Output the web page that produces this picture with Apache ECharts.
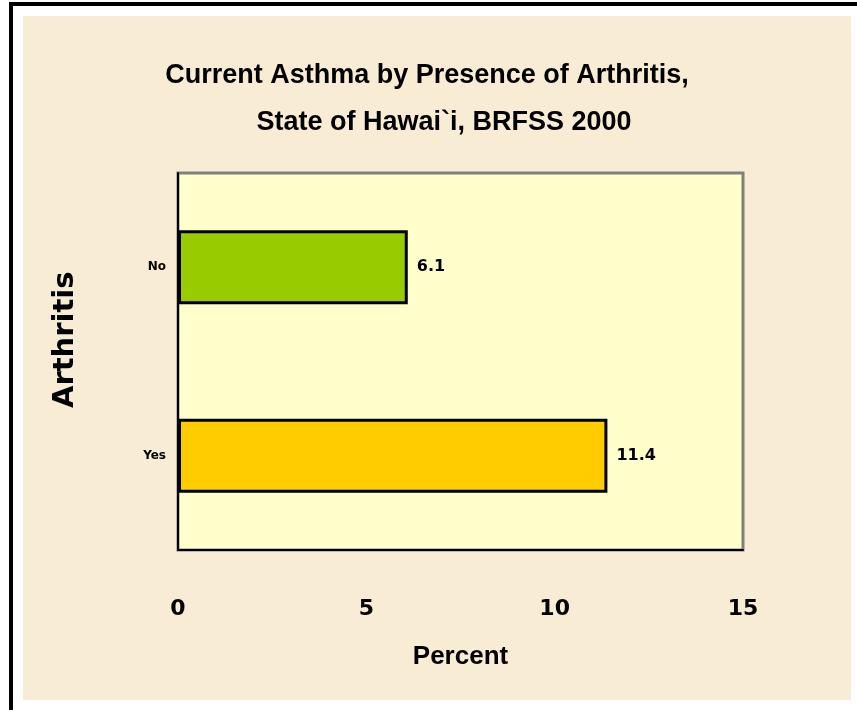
<!DOCTYPE html>
<html>
<head>
<meta charset="utf-8">
<script src="https://cdn.jsdelivr.net/npm/echarts@6/dist/echarts.min.js"></script>
<style>
  html, body { margin: 0; padding: 0; background: #fff; }
  #chart { width: 857px; height: 710px; }
</style>
</head>
<body>
<div id="chart"></div>
<script>
// data
const categories = ['Yes', 'No']
const percents = [11.4, 6.1]
const barColors = ['#FFCC00', '#99CC00']
const xTicks = { min: 0, max: 15, interval: 5 }
const titleLines = ['Current Asthma by Presence of Arthritis,', 'State of Hawai`i, BRFSS 2000']

const narrow = '"Liberation Sans Narrow", "Liberation Sans", Arial, sans-serif'
const wide = '"DejaVu Sans", Verdana, sans-serif'

const chart = echarts.init(document.getElementById('chart'))

chart.setOption({
  backgroundColor: '#ffffff',
  animation: false,
  title: [
    {
      text: titleLines[0],
      left: 427, top: 62, textAlign: 'center',
      padding: 0,
      textStyle: { fontFamily: narrow, fontWeight: 'bold', fontSize: 27, color: '#000' },
    },
    {
      text: titleLines[1],
      left: 444, top: 109, textAlign: 'center',
      padding: 0,
      textStyle: { fontFamily: narrow, fontWeight: 'bold', fontSize: 27, color: '#000' },
    },
  ],
  graphic: [
    // page frame
    { type: 'rect', z: -10, silent: true, shape: { x: 23, y: 16, width: 828, height: 684 }, style: { fill: '#F9ECD5' } },
    { type: 'rect', z: -10, silent: true, shape: { x: 9, y: 2, width: 4, height: 708 }, style: { fill: '#000' } },
    { type: 'rect', z: -10, silent: true, shape: { x: 9, y: 2, width: 848, height: 4 }, style: { fill: '#000' } },
    // y axis title
    {
      type: 'text',
      x: 65, y: 408,
      rotation: Math.PI / 2,
      style: {
        text: 'Arthritis',
        fontFamily: wide, fontWeight: 'bold', fontSize: 29,
        fill: '#000', align: 'left', verticalAlign: 'middle',
      },
    },
  ],
  grid: {
    left: 178, top: 173, width: 565, height: 377,
    show: true, backgroundColor: '#FFFFCC',
    borderColor: '#808080', borderWidth: 3,
  },
  xAxis: {
    type: 'value',
    min: xTicks.min, max: xTicks.max, interval: xTicks.interval,
    name: 'Percent',
    nameLocation: 'middle',
    nameGap: 94,
    nameTextStyle: { fontFamily: narrow, fontWeight: 'bold', fontSize: 26, color: '#000' },
    axisLine: { show: true, lineStyle: { color: '#000', width: 2 } },
    axisTick: { show: false },
    splitLine: { show: false },
    axisLabel: { margin: 48, fontFamily: wide, fontWeight: 'bold', fontSize: 22, color: '#000' },
  },
  yAxis: {
    type: 'category',
    data: categories,
    axisLine: { show: true, lineStyle: { color: '#000', width: 2 } },
    axisTick: { show: false },
    axisLabel: { margin: 12, fontFamily: wide, fontWeight: 'bold', fontSize: 12, color: '#000' },
  },
  series: [
    {
      type: 'bar',
      data: percents.map((v, i) => ({ value: v, itemStyle: { color: barColors[i] } })),
      barWidth: 74,
      itemStyle: { borderColor: '#000', borderWidth: 3 },
      label: {
        show: true,
        position: 'right',
        distance: 9,
        formatter: (p) => p.value.toFixed(1),
        fontFamily: wide, fontWeight: 'bold', fontSize: 16, color: '#000',
      },
    },
  ],
})
</script>
</body>
</html>
